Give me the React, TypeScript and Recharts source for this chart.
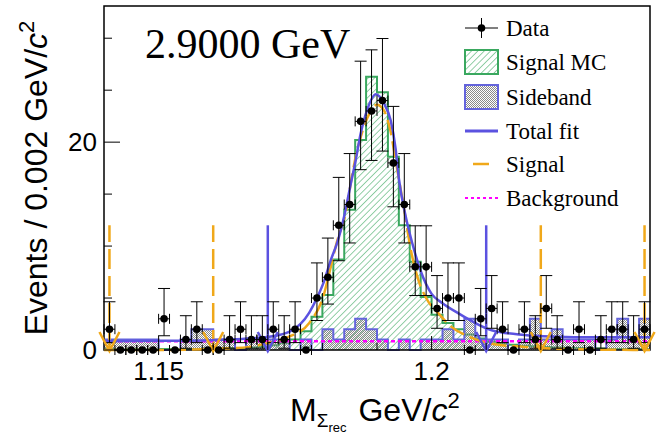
import React from 'react';
import {
  ComposedChart, Area, Line, Scatter, ErrorBar, XAxis, YAxis,
  ReferenceLine, ReferenceArea,
} from 'recharts';

const X_MIN = 1.14;
const X_MAX = 1.24;
const BIN = 0.002;
const Y_MAX = 33.1;

// events per 0.002 GeV bin (50 bins, 1.14 -> 1.24)
const dataCounts = [
  2, 0, 0, 0, 0, 3, 0, 1, 2, 0,
  0, 1, 2, 1, 1, 2, 1, 2, 0, 5,
  7, 12, 14, 22, 23, 24, 18, 14, 8, 8,
  4, 5, 5, 0, 3, 4, 2, 0, 2, 1,
  4, 1, 0, 2, 0, 1, 2, 2, 1, 2,
];

// Poisson (Garwood) intervals for the counts above
const errLow: Record<number, number> = {
  0: 0, 1: 0.83, 2: 1.29, 3: 1.63, 4: 1.91, 5: 2.16, 7: 2.58, 8: 2.76,
  12: 3.41, 14: 3.70, 18: 4.22, 22: 4.65, 23: 4.76, 24: 4.86,
};
const errHigh: Record<number, number> = {
  0: 0, 1: 2.30, 2: 2.64, 3: 2.92, 4: 3.16, 5: 3.38, 7: 3.77, 8: 3.95,
  12: 4.61, 14: 4.90, 18: 5.44, 22: 5.79, 23: 5.88, 24: 5.97,
};

const signalMC = [
  0.1, 0.1, 0.1, 0.1, 0.1, 0.1, 0.1, 0.1, 0.1, 0.15,
  0.15, 0.2, 0.2, 0.25, 0.3, 0.45, 0.65, 1.0, 1.8, 3.2,
  5.3, 8.7, 13.5, 20.2, 26.3, 24.8, 18.6, 12.0, 8.5, 5.1,
  3.4, 2.6, 2.0, 1.5, 1.1, 0.8, 0.6, 0.5, 0.4, 0.35,
  0.3, 0.25, 0.2, 0.2, 0.15, 0.15, 0.1, 0.1, 0.1, 0.1,
];

const sideband = [
  1, 1, 1, 1, 1, 0, 0, 1, 2, 2,
  1, 1, 0, 1, 1, 1, 1, 0, 1, 0,
  2, 1, 2, 3, 2, 1, 0, 1, 0, 1,
  1, 2, 1, 3, 1, 1, 1, 0, 1, 3,
  1, 2, 1, 1, 1, 0, 1, 3, 1, 3,
];

const totalFitX = [
  1.140, 1.150, 1.158, 1.163, 1.167, 1.1703, 1.174, 1.1776, 1.179, 1.1803,
  1.1815, 1.1827, 1.184, 1.1852, 1.186, 1.187, 1.1882, 1.1898, 1.1913, 1.1925,
  1.1934, 1.194, 1.1952, 1.1965, 1.198, 1.200, 1.202, 1.205, 1.208, 1.211,
  1.217, 1.223, 1.229, 1.240,
];
const totalFitY = [
  0.85, 0.88, 0.92, 1.0, 1.12, 1.28, 1.76, 3.6, 5.0, 6.6,
  8.6, 10.3, 12.9, 16.0, 18.0, 20.8, 23.1, 24.6, 23.7, 22.1,
  19.4, 16.5, 13.0, 10.2, 7.6, 5.4, 4.5, 3.5, 2.6, 1.9,
  1.44, 1.28, 1.22, 1.22,
];

const signalX = [
  1.140, 1.150, 1.160, 1.1667, 1.1697, 1.174, 1.1776, 1.1803, 1.1814, 1.1826,
  1.1844, 1.1855, 1.1882, 1.190, 1.1912, 1.1925, 1.1934, 1.1952, 1.1961, 1.1976,
  1.199, 1.2013, 1.2037, 1.2068, 1.211, 1.217, 1.226, 1.240,
];
const signalY = [
  0, 0, 0.1, 0.3, 0.64, 1.3, 2.6, 5.4, 7.7, 10.3,
  13.5, 17.0, 22.3, 23.6, 23.1, 21.0, 18.3, 12.8, 9.9, 6.7,
  5.0, 3.5, 2.2, 1.3, 0.6, 0.3, 0.07, 0,
];

const backgroundX = [1.14, 1.24];
const backgroundY = [0.85, 0.85];

const cutLines = [1.141, 1.16, 1.22, 1.239];   // orange dashed
const fitLines = [1.17, 1.21];                  // blue solid
const lineTop = 12;

const xTicks = [1.15, 1.16, 1.17, 1.18, 1.19, 1.2, 1.21, 1.22, 1.23];
const xMajor = [1.15, 1.2];
const yTicks = [0, 5, 10, 15, 20, 25, 30];
const yMajor = [0, 20];

const GREEN = '#3aa85f';
const BLUE = '#5b52e0';
const SB_BLUE = '#6464dc';
const ORANGE = '#f0a81a';
const MAGENTA = '#ff00ff';
const STIPPLE = '#8a8a8a';

const histo = (vals: number[]) => {
  const pts = vals.map((v, i) => ({ x: X_MIN + i * BIN, y: v }));
  pts.push({ x: X_MAX, y: vals[vals.length - 1] });
  return pts;
};
const curve = (xs: number[], ys: number[]) => xs.map((x, i) => ({ x, y: ys[i] }));

const mcData = histo(signalMC);
const sbData = histo(sideband);
const points = dataCounts.map((n, i) => ({
  x: X_MIN + (i + 0.5) * BIN,
  y: n,
  ex: BIN / 2,
  ey: [errLow[n], errHigh[n]],
}));
const cutFeet = cutLines.map(x => ({ x, y: 0 }));
const fitFeet = fitLines.map(x => ({ x, y: 0 }));

const isIn = (v: number, list: number[]) => list.some(m => Math.abs(m - v) < 1e-6);

const XTick = (props: any) => {
  const { x, y, payload } = props;
  const major = isIn(payload.value, xMajor);
  return (
    <g>
      <line x1={x} x2={x} y1={y} y2={y - (major ? 14 : 7)} stroke="#000" strokeWidth={1} />
      {major && (
        <text x={x} y={y + 30} textAnchor="middle" fontFamily="Liberation Sans" fontSize={26} fill="#000">
          {payload.value === 1.2 ? '1.2' : payload.value}
        </text>
      )}
    </g>
  );
};

const YTick = (props: any) => {
  const { x, y, payload } = props;
  const major = isIn(payload.value, yMajor);
  return (
    <g>
      <line x1={x} x2={x + (major ? 16 : 8)} y1={y} y2={y} stroke="#000" strokeWidth={1} />
      {major && (
        <text x={x - 7} y={y + 9} textAnchor="end" fontFamily="Liberation Sans" fontSize={26} fill="#000">
          {payload.value}
        </text>
      )}
    </g>
  );
};

const Dot = (props: any) => <circle cx={props.cx} cy={props.cy} r={3.8} fill="#000" />;

// open arrow head pointing down at the foot of a cut line
const arrowHead = (color: string) => (props: any) => (
  <path
    d={`M${props.cx - 10},${props.cy - 18} L${props.cx},${props.cy + 1} L${props.cx + 10},${props.cy - 18}`}
    fill="none" stroke={color} strokeWidth={2.5}
  />
);

const Overlay = () => (
  <svg width={656} height={435} style={{ position: 'absolute', left: 0, top: 0, pointerEvents: 'none' }}>
    <defs>
      <pattern id="hatchL" patternUnits="userSpaceOnUse" width="4.5" height="4.5" patternTransform="rotate(45)">
        <line x1="0" y1="0" x2="0" y2="4.5" stroke={GREEN} strokeWidth="1.1" />
      </pattern>
      <pattern id="dotsL" patternUnits="userSpaceOnUse" width="2" height="2">
        <rect x="0" y="0" width="1" height="1" fill={STIPPLE} />
        <rect x="1" y="1" width="1" height="1" fill={STIPPLE} />
      </pattern>
    </defs>
    <text x={145} y={58} fontFamily="Liberation Serif" fontSize={42} fill="#000">2.9000 GeV</text>

    <text transform="translate(47,178) rotate(-90)" textAnchor="middle" fontFamily="Liberation Sans" fontSize={32} fill="#000">
      Events / 0.002 GeV/<tspan fontStyle="italic">c</tspan><tspan dy={-13} fontSize={22}>2</tspan>
    </text>

    <text x={290} y={421} fontFamily="Liberation Sans" fontSize={32} fill="#000">
      M<tspan fontSize={19} dy={6}>Σ</tspan><tspan fontSize={13} dy={5}>rec</tspan>
      <tspan dx={12} dy={-11} fontSize={32}>GeV/</tspan><tspan fontStyle="italic">c</tspan>
      <tspan dy={-13} fontSize={22}>2</tspan>
    </text>

    <g fontFamily="Liberation Serif" fontSize={23} fill="#000">
      <line x1={465} x2={498} y1={28} y2={28} stroke="#000" strokeWidth={1} />
      <line x1={481.5} x2={481.5} y1={18} y2={38} stroke="#000" strokeWidth={1} />
      <circle cx={481.5} cy={28} r={3.8} fill="#000" />
      <text x={506} y={36}>Data</text>

      <rect x={465} y={50} width={33} height={24} fill="url(#hatchL)" stroke={GREEN} strokeWidth={2} />
      <text x={506} y={70}>Signal MC</text>

      <rect x={465} y={85} width={33} height={24} fill="url(#dotsL)" stroke={SB_BLUE} strokeWidth={2} />
      <text x={506} y={105}>Sideband</text>

      <line x1={465} x2={498} y1={131} y2={131} stroke={BLUE} strokeWidth={3} />
      <text x={506} y={139}>Total fit</text>

      <line x1={473} x2={489} y1={164} y2={164} stroke={ORANGE} strokeWidth={2.5} />
      <text x={506} y={172}>Signal</text>

      <line x1={465} x2={498} y1={198} y2={198} stroke={MAGENTA} strokeWidth={2} strokeDasharray="3 3" />
      <text x={506} y={206}>Background</text>
    </g>
  </svg>
);

export default function App() {
  return (
    <div style={{ position: 'absolute', left: 0, top: 0, width: 656, height: 435, background: '#fff' }}>
      <ComposedChart width={656} height={435} margin={{ top: 6, right: 6, left: 0, bottom: 0 }}>
        <defs>
          <pattern id="hatch" patternUnits="userSpaceOnUse" width="4.5" height="4.5" patternTransform="rotate(45)">
            <line x1="0" y1="0" x2="0" y2="4.5" stroke={GREEN} strokeWidth="1.1" />
          </pattern>
          <pattern id="dots" patternUnits="userSpaceOnUse" width="2" height="2">
            <rect x="0" y="0" width="1" height="1" fill={STIPPLE} />
            <rect x="1" y="1" width="1" height="1" fill={STIPPLE} />
          </pattern>
        </defs>
        <XAxis
          type="number" dataKey="x" domain={[X_MIN, X_MAX]}
          ticks={xTicks} interval={0} height={85} tickSize={0} tickMargin={0}
          axisLine={false} tickLine={false} tick={<XTick />}
        />
        <YAxis
          type="number" dataKey="y" domain={[0, Y_MAX]}
          ticks={yTicks} interval={0} width={104} tickSize={0} tickMargin={0}
          axisLine={false} tickLine={false} tick={<YTick />}
        />
        <Area
          data={mcData} dataKey="y" type="stepAfter" stroke={GREEN} strokeWidth={2}
          fill="url(#hatch)" fillOpacity={1} isAnimationActive={false} dot={false} activeDot={false}
        />
        <Area
          data={sbData} dataKey="y" type="stepAfter" stroke={SB_BLUE} strokeWidth={2}
          fill="url(#dots)" fillOpacity={1} isAnimationActive={false} dot={false} activeDot={false}
        />
        {cutLines.map(v => (
          <ReferenceLine key={'c' + v} segment={[{ x: v, y: 0 }, { x: v, y: lineTop }]}
            stroke={ORANGE} strokeWidth={2.5} strokeDasharray="20 7" ifOverflow="visible" />
        ))}
        {fitLines.map(v => (
          <ReferenceLine key={'f' + v} segment={[{ x: v, y: 0 }, { x: v, y: lineTop }]}
            stroke={BLUE} strokeWidth={2.5} ifOverflow="visible" />
        ))}
        <Line
          data={curve(backgroundX, backgroundY)} dataKey="y" type="linear" stroke={MAGENTA}
          strokeWidth={2.5} strokeDasharray="4 3" dot={false} activeDot={false} isAnimationActive={false}
        />
        <Line
          data={curve(signalX, signalY)} dataKey="y" type="monotone" stroke={ORANGE}
          strokeWidth={2.5} strokeDasharray="16 6" dot={false} activeDot={false} isAnimationActive={false}
        />
        <Line
          data={curve(totalFitX, totalFitY)} dataKey="y" type="monotone" stroke={BLUE}
          strokeWidth={2.5} dot={false} activeDot={false} isAnimationActive={false}
        />
        <Scatter data={cutFeet} dataKey="y" shape={arrowHead(ORANGE)} isAnimationActive={false} />
        <Scatter data={fitFeet} dataKey="y" shape={arrowHead(BLUE)} isAnimationActive={false} />
        <Scatter data={points} dataKey="y" shape={<Dot />} isAnimationActive={false}>
          <ErrorBar dataKey="ey" direction="y" width={6} stroke="#000" strokeWidth={1} />
          <ErrorBar dataKey="ex" direction="x" width={5} stroke="#000" strokeWidth={1} />
        </Scatter>
        <ReferenceArea x1={X_MIN} x2={X_MAX} y1={0} y2={Y_MAX} fill="none" fillOpacity={0}
          stroke="#000" strokeWidth={1.5} ifOverflow="visible" />
      </ComposedChart>
      <Overlay />
    </div>
  );
}
